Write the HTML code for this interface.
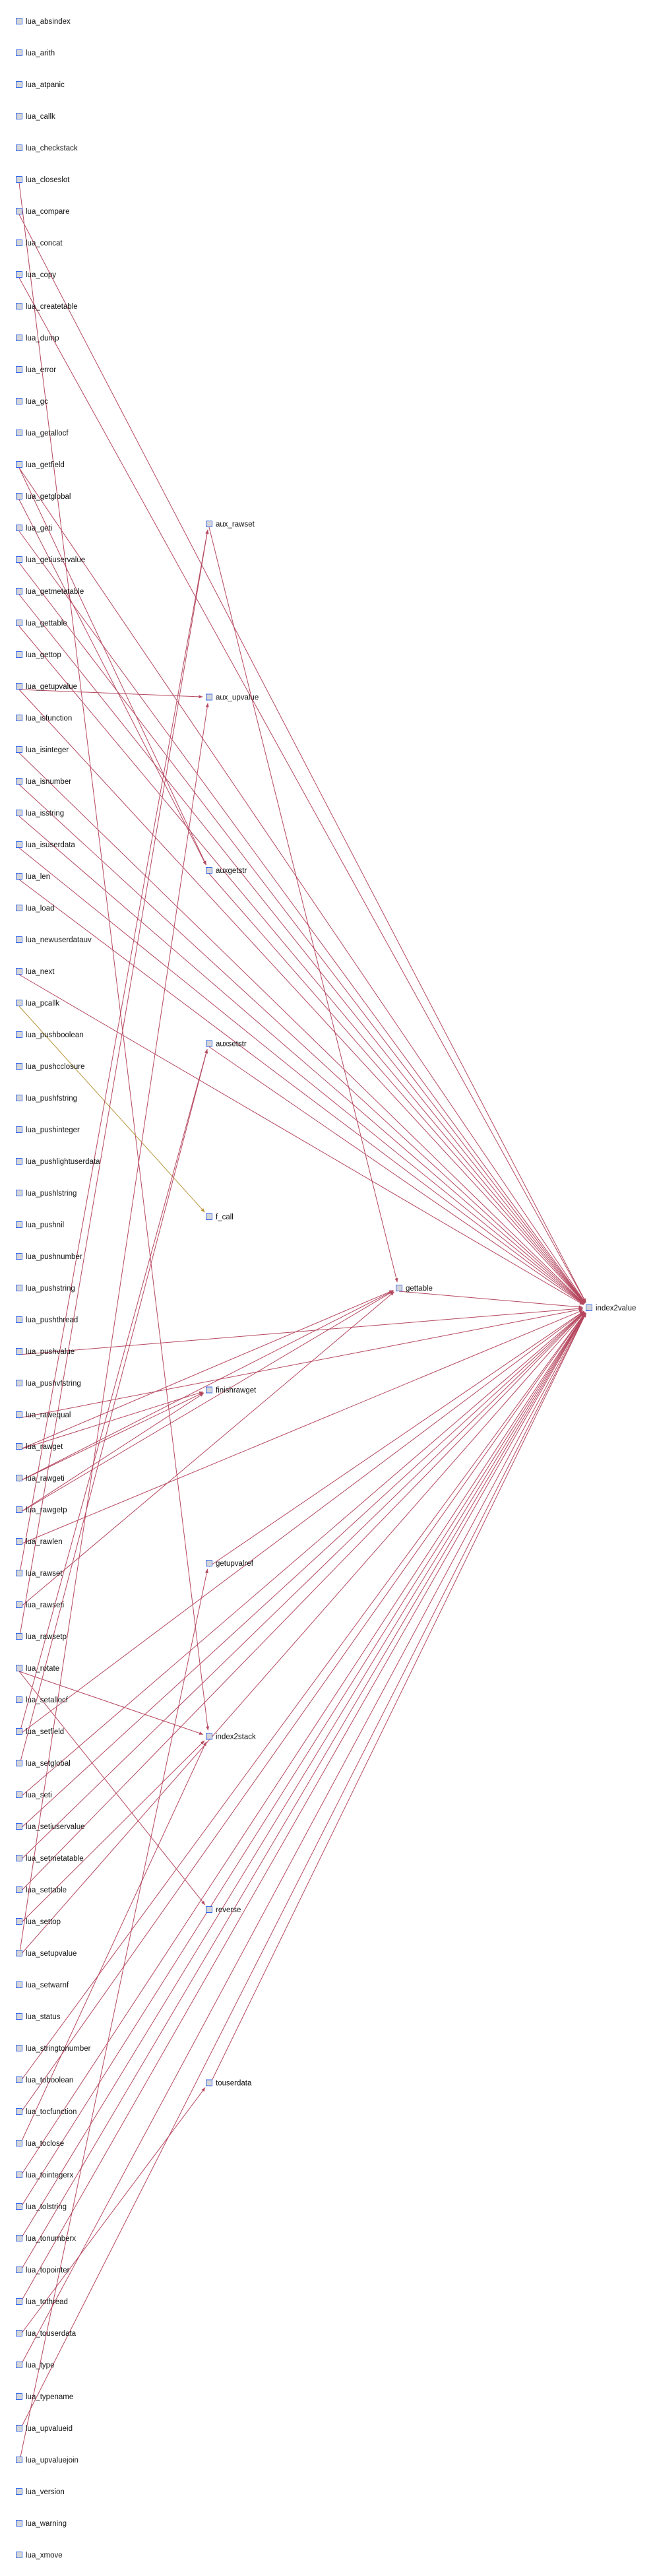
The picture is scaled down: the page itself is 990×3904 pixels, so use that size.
<!DOCTYPE html>
<html><head><meta charset="utf-8">
<style>
html,body{margin:0;padding:0;background:#fff;}
svg{display:block;}
text{font-family:"Liberation Sans",sans-serif;font-size:11.5px;fill:#111;}
</style></head>
<body>
<svg id="g" width="990" height="3904" viewBox="0 0 990 3904" xmlns="http://www.w3.org/2000/svg">
<g id="edges"></g>
<g id="nodes"></g>
</svg>
<script>
const leftNames = ["absindex","arith","atpanic","callk","checkstack","closeslot","compare","concat","copy","createtable","dump","error","gc","getallocf","getfield","getglobal","geti","getiuservalue","getmetatable","gettable","gettop","getupvalue","isfunction","isinteger","isnumber","isstring","isuserdata","len","load","newuserdatauv","next","pcallk","pushboolean","pushcclosure","pushfstring","pushinteger","pushlightuserdata","pushlstring","pushnil","pushnumber","pushstring","pushthread","pushvalue","pushvfstring","rawequal","rawget","rawgeti","rawgetp","rawlen","rawset","rawseti","rawsetp","rotate","setallocf","setfield","setglobal","seti","setiuservalue","setmetatable","settable","settop","setupvalue","setwarnf","status","stringtonumber","toboolean","tocfunction","toclose","tointegerx","tolstring","tonumberx","topointer","tothread","touserdata","type","typename","upvalueid","upvaluejoin","version","warning","xmove"];
const midNames = ["aux_rawset","aux_upvalue","auxgetstr","auxsetstr","f_call","finishrawget","getupvalref","index2stack","reverse","touserdata"];
const edges = [
["lua_closeslot","index2stack"],["lua_compare","index2value"],["lua_copy","index2value"],
["lua_getfield","auxgetstr"],["lua_getfield","index2value"],["lua_getglobal","auxgetstr"],
["lua_geti","index2value"],["lua_getiuservalue","index2value"],["lua_getmetatable","index2value"],
["lua_gettable","index2value"],["lua_getupvalue","aux_upvalue"],["lua_getupvalue","index2value"],
["lua_isinteger","index2value"],["lua_isnumber","index2value"],["lua_isstring","index2value"],
["lua_isuserdata","index2value"],["lua_len","index2value"],["lua_next","index2value"],
["lua_pcallk","f_call"],["lua_pushvalue","index2value"],["lua_rawequal","index2value"],
["lua_rawget","gettable"],["lua_rawget","finishrawget"],["lua_rawgeti","gettable"],["lua_rawgeti","finishrawget"],
["lua_rawgetp","gettable"],["lua_rawgetp","finishrawget"],["lua_rawlen","index2value"],
["lua_rawset","aux_rawset"],["lua_rawseti","gettable"],["lua_rawsetp","aux_rawset"],
["lua_rotate","index2stack"],["lua_rotate","reverse"],["lua_setfield","auxsetstr"],["lua_setfield","index2value"],
["lua_setglobal","auxsetstr"],["lua_seti","index2value"],["lua_setiuservalue","index2value"],
["lua_setmetatable","index2value"],["lua_settable","index2value"],["lua_settop","index2stack"],
["lua_setupvalue","aux_upvalue"],["lua_setupvalue","index2value"],["lua_toboolean","index2value"],
["lua_tocfunction","index2value"],["lua_toclose","index2stack"],["lua_tointegerx","index2value"],
["lua_tolstring","index2value"],["lua_tonumberx","index2value"],["lua_topointer","index2value"],
["lua_tothread","index2value"],["lua_touserdata","touserdata"],["lua_type","index2value"],
["lua_upvalueid","index2value"],["lua_upvaluejoin","getupvalref"],
["aux_rawset","gettable"],["gettable","index2value"],["touserdata","index2value"],["getupvalref","index2value"],
["auxgetstr","index2value"],["auxsetstr","index2value"]
];
const NS="http://www.w3.org/2000/svg";
const pos={};
leftNames.forEach((n,i)=>{pos["lua_"+n]={x:24,y:32+i*48};});
midNames.forEach((n,i)=>{pos[n]={x:312,y:794+i*262.5};});
pos["gettable"]={x:600,y:1952};
pos["index2value"]={x:888,y:1982};
const eg=document.getElementById('edges');
edges.forEach(([s,t])=>{
  const a=pos[s],b=pos[t];
  const x1=a.x+5,y1=a.y+5;
  const tx=b.x+4.5,ty=b.y;
  const dx=tx-x1,dy=ty-y1,L=Math.hypot(dx,dy);
  const ux=dx/L,uy=dy/L;
  const x2=tx-ux*9,y2=ty-uy*9;
  const col = t==="f_call" ? "#b8963a" : "#b5475f";
  const ln=document.createElementNS(NS,'line');
  
  
  ln.setAttribute('x1',x1);ln.setAttribute('y1',y1);ln.setAttribute('x2',x2);ln.setAttribute('y2',y2);
  ln.setAttribute('stroke',col);ln.setAttribute('stroke-width','1');
  eg.appendChild(ln);
  const px=-uy,py=ux;
  const ax=x2-ux*6,ay=y2-uy*6;
  const ar=document.createElementNS(NS,'polygon');
  
  
  ar.setAttribute('points',`${x2},${y2} ${ax+px*2.5},${ay+py*2.5} ${ax-px*2.5},${ay-py*2.5}`);
  ar.setAttribute('fill',col);
  eg.appendChild(ar);
});
const ng=document.getElementById('nodes');
Object.keys(pos).forEach(n=>{
  const p=pos[n];
  const g=document.createElementNS(NS,'g');
  
  
  const r=document.createElementNS(NS,'rect');
  
  
  r.setAttribute('x',p.x+0.5);r.setAttribute('y',p.y-4.5);r.setAttribute('width',9);r.setAttribute('height',9);
  r.setAttribute('fill','#d6d6d6');r.setAttribute('stroke','#3366ee');r.setAttribute('stroke-width','1');
  g.appendChild(r);
  const tx=document.createElementNS(NS,'text');
  
  
  tx.setAttribute('x',p.x+15);tx.setAttribute('y',p.y+4);
  tx.textContent=n;
  g.appendChild(tx);
  ng.appendChild(g);
});
</script>
</body></html>
